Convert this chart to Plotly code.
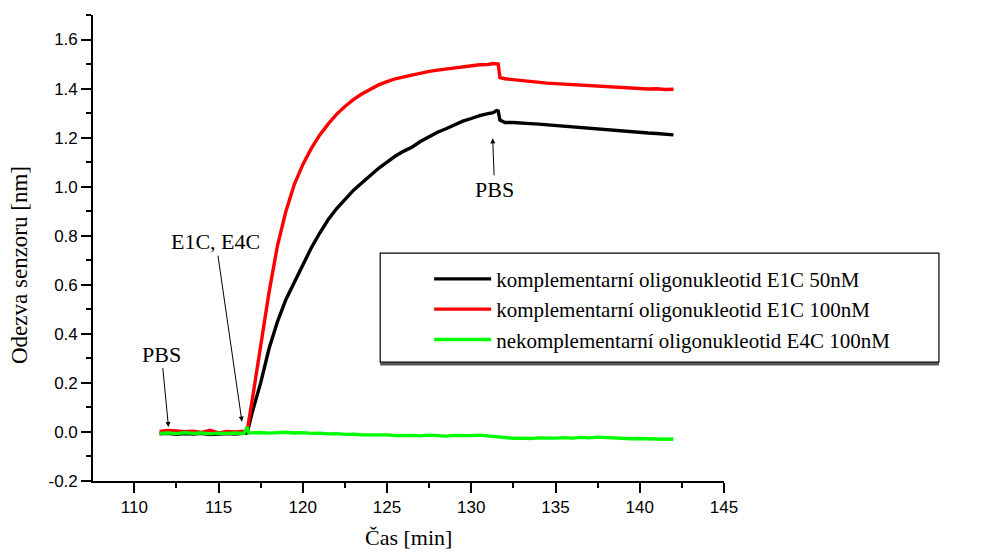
import plotly.graph_objects as go

# ---- data ----
t_black = [111.5, 112.0, 112.5, 113.0, 113.5, 114.0, 114.5, 115.0, 115.5, 116.0, 116.5, 116.7,
           117.0, 117.5, 118.0, 118.5, 119.0, 119.5, 120.0, 120.5, 121.0, 121.5, 122.0, 122.5,
           123.0, 123.5, 124.0, 124.5, 125.0, 125.5, 126.0, 126.5, 127.0, 127.5, 128.0, 128.5,
           129.0, 129.5, 130.0, 130.5, 131.0, 131.3, 131.5, 131.6, 131.7, 132.0, 132.5, 133.0,
           133.5, 134.0, 134.5, 135.0, 135.5, 136.0, 136.5, 137.0, 137.5, 138.0, 138.5, 139.0,
           139.5, 140.0, 140.5, 141.0, 141.5, 142.0]
v_black = [-0.008, -0.006, -0.010, -0.007, -0.009, -0.006, -0.011, -0.008, -0.007, -0.009, -0.006, -0.004,
           0.08, 0.20, 0.34, 0.45, 0.54, 0.61, 0.68, 0.75, 0.81, 0.865, 0.91, 0.95,
           0.985, 1.015, 1.045, 1.075, 1.10, 1.125, 1.145, 1.162, 1.185, 1.205, 1.222, 1.236,
           1.252, 1.267, 1.278, 1.290, 1.298, 1.302, 1.310, 1.308, 1.272, 1.262, 1.262, 1.258,
           1.257, 1.255, 1.252, 1.250, 1.247, 1.245, 1.241, 1.239, 1.234, 1.232, 1.229, 1.228,
           1.224, 1.222, 1.219, 1.217, 1.215, 1.211]

t_red = [111.5, 112.0, 112.5, 113.0, 113.5, 114.0, 114.5, 115.0, 115.5, 116.0, 116.5, 116.7,
         117.0, 117.5, 118.0, 118.5, 119.0, 119.5, 120.0, 120.5, 121.0, 121.5, 122.0, 122.5,
         123.0, 123.5, 124.0, 124.5, 125.0, 125.5, 126.0, 126.5, 127.0, 127.5, 128.0, 128.5,
         129.0, 129.5, 130.0, 130.5, 131.0, 131.3, 131.6, 131.7, 132.0, 132.5, 133.0, 133.5,
         134.0, 134.5, 135.0, 135.5, 136.0, 136.5, 137.0, 137.5, 138.0, 138.5, 139.0, 139.5,
         140.0, 140.5, 141.0, 141.5, 142.0]
v_red = [0.002, 0.006, 0.004, 0.001, 0.003, -0.002, 0.007, -0.004, 0.002, 0.000, 0.003, 0.005,
         0.13, 0.35, 0.57, 0.76, 0.90, 1.01, 1.09, 1.155, 1.21, 1.255, 1.295, 1.327,
         1.355, 1.378, 1.398, 1.415, 1.428, 1.44, 1.448, 1.456, 1.463, 1.47, 1.475, 1.48,
         1.485, 1.49, 1.492, 1.497, 1.498, 1.502, 1.500, 1.445, 1.44, 1.436, 1.432, 1.428,
         1.424, 1.422, 1.42, 1.418, 1.417, 1.413, 1.411, 1.408, 1.407, 1.405, 1.404, 1.401,
         1.40, 1.398, 1.399, 1.396, 1.397]

t_green = [111.5, 112.0, 112.5, 113.0, 113.5, 114.0, 114.5, 115.0, 115.5, 116.0, 116.5, 116.7,
           116.8, 117.5, 118.0, 118.5, 119.0, 119.5, 120.0, 120.5, 121.0, 121.5, 122.0, 122.5,
           123.0, 123.5, 124.0, 124.5, 125.0, 125.5, 126.0, 126.5, 127.0, 127.5, 128.0, 128.5,
           129.0, 129.5, 130.0, 130.5, 131.0, 131.5, 132.0, 132.5, 133.0, 133.5, 134.0, 134.5,
           135.0, 135.5, 136.0, 136.5, 137.0, 137.5, 138.0, 138.5, 139.0, 139.5, 140.0, 140.5,
           141.0, 141.5, 142.0]
v_green = [-0.006, -0.004, -0.007, -0.003, -0.006, -0.004, -0.008, -0.005, -0.006, -0.004, -0.006, 0.020,
           -0.004, -0.002, -0.005, -0.003, -0.001, -0.004, -0.003, -0.006, -0.005, -0.008, -0.007, -0.010,
           -0.009, -0.012, -0.011, -0.013, -0.012, -0.015, -0.013, -0.014, -0.016, -0.013, -0.015, -0.017,
           -0.014, -0.016, -0.015, -0.013, -0.016, -0.018, -0.024, -0.026, -0.025, -0.027, -0.024, -0.026,
           -0.025, -0.023, -0.025, -0.022, -0.024, -0.021, -0.023, -0.025, -0.026, -0.028, -0.027, -0.029,
           -0.028, -0.030, -0.029]

names = ["komplementarní oligonukleotid E1C 50nM",
         "komplementarní oligonukleotid E1C 100nM",
         "nekomplementarní oligonukleotid E4C 100nM"]
colors = ["#000000", "#ff0000", "#00ff00"]

x_tick_vals = [110, 115, 120, 125, 130, 135, 140, 145]
y_tick_vals = [-0.2, 0.0, 0.2, 0.4, 0.6, 0.8, 1.0, 1.2, 1.4, 1.6]
y_tick_text = ["-0.2", "0.0", "0.2", "0.4", "0.6", "0.8", "1.0", "1.2", "1.4", "1.6"]

# annotation targets (data coords of arrow tips)
pbs1_tip = (112.03, 0.02)
inj_tip = (116.39, 0.042)
pbs2_tip = (131.27, 1.197)

SERIF = "Liberation Serif, Times New Roman, serif"
SANS = "Liberation Sans, Arial, Helvetica, sans-serif"

fig = go.Figure()
for t, v, n, c in [(t_black, v_black, names[0], colors[0]),
                   (t_red, v_red, names[1], colors[1]),
                   (t_green, v_green, names[2], colors[2])]:
    fig.add_trace(go.Scatter(x=t, y=v, mode="lines", name=n,
                             line=dict(color=c, width=3.4)))

axis_common = dict(
    showline=True, linecolor="black", linewidth=1.6,
    ticks="outside", ticklen=10, tickwidth=1.5, tickcolor="black",
    showgrid=False, zeroline=False, mirror=False,
    tickfont=dict(family=SANS, size=17, color="black"),
)

fig.update_xaxes(range=[107.55, 145], tickvals=x_tick_vals,
                 minor=dict(ticks="outside", ticklen=5, tickwidth=1.5, tickcolor="black", dtick=2.5, tick0=110),
                 **axis_common)
fig.update_yaxes(range=[-0.2, 1.7], tickvals=y_tick_vals, ticktext=y_tick_text,
                 minor=dict(ticks="outside", ticklen=5, tickwidth=1.5, tickcolor="black", dtick=0.1, tick0=0),
                 **axis_common)

ann_font = dict(family=SERIF, size=22, color="black")
fig.add_annotation(x=pbs1_tip[0], y=pbs1_tip[1], text="PBS", showarrow=True,
                   ax=-7, ay=-73, arrowhead=2, arrowsize=1, arrowwidth=1, arrowcolor="black",
                   font=ann_font)
fig.add_annotation(x=inj_tip[0], y=inj_tip[1], text="E1C, E4C", showarrow=True,
                   ax=-26, ay=-180, arrowhead=2, arrowsize=1, arrowwidth=1, arrowcolor="black",
                   font=ann_font)
fig.add_annotation(x=pbs2_tip[0], y=pbs2_tip[1], text="PBS", showarrow=True,
                   ax=2, ay=51, arrowhead=2, arrowsize=1, arrowwidth=1, arrowcolor="black",
                   font=ann_font)

# axis titles
fig.add_annotation(xref="paper", yref="paper", x=0.4995, y=-0.121, text="Čas [min]",
                   showarrow=False, font=dict(family=SERIF, size=22, color="black"),
                   xanchor="center", yanchor="middle")
fig.add_annotation(xref="paper", yref="paper", x=-0.1167, y=0.4643, text="Odezva senzoru [nm]",
                   showarrow=False, textangle=-90, font=dict(family=SERIF, size=23, color="black"),
                   xanchor="center", yanchor="middle")

# legend frame (with a slight bottom shadow)
fig.add_shape(type="line", xref="paper", yref="paper", x0=0.4551, x1=1.3406, y0=0.2510, y1=0.2510,
              line=dict(color="#555555", width=3), layer="below")
fig.add_shape(type="rect", xref="paper", yref="paper", x0=0.4551, x1=1.3406, y0=0.2552, y1=0.4890,
              line=dict(color="black", width=1.2), fillcolor="rgba(0,0,0,0)", layer="below")

fig.update_layout(
    width=992, height=552,
    margin=dict(l=93, r=268, t=15, b=71),
    plot_bgcolor="white", paper_bgcolor="white",
    showlegend=True,
    legend=dict(x=0.5327, y=0.477, xanchor="left", yanchor="top",
                font=dict(family=SERIF, size=21, color="black"),
                bgcolor="rgba(0,0,0,0)", borderwidth=0, itemwidth=57,
                tracegroupgap=0),
)

fig.write_html("out.html", config={"displayModeBar": False},
               post_script="document.body.style.margin='0px';document.body.style.overflow='hidden';")
